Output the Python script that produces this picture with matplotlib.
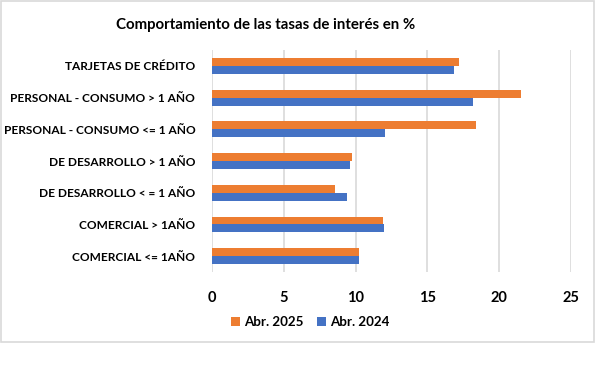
import matplotlib
matplotlib.use("Agg")
import matplotlib.pyplot as plt
from matplotlib.patches import Rectangle
import numpy as np

categories = ["TARJETAS DE CRÉDITO", "PERSONAL - CONSUMO > 1 AÑO", "PERSONAL - CONSUMO <= 1 AÑO",
              "DE DESARROLLO > 1 AÑO", "DE DESARROLLO < = 1 AÑO", "COMERCIAL > 1AÑO", "COMERCIAL <= 1AÑO"]
abr_2025 = [17.2, 21.5, 18.35, 9.75, 8.6, 11.88, 10.26]
abr_2024 = [16.85, 18.2, 12.05, 9.63, 9.4, 11.98, 10.23]
series_names = ["Abr. 2025", "Abr. 2024"]
xticks = [0, 5, 10, 15, 20, 25]

plt.rcParams['font.family'] = ['Lato', 'DejaVu Sans']

W, H = 600, 373
fig = plt.figure(figsize=(6, 3.73), dpi=100)
fig.patch.set_facecolor('white')

# frame
fig.patches.append(Rectangle((1 / W, 1 - 342 / H), 593 / W, 341 / H, transform=fig.transFigure,
                             fill=False, edgecolor='#D9D9D9', lw=1.2))

ax = fig.add_axes([212 / W, 1 - 272 / H, (571 - 212) / W, (272 - 50) / H])
n = len(categories)
y = np.arange(n)[::-1]
h = 0.25
ax.barh(y + h / 2, abr_2025, height=h, color='#ED7D31', label=series_names[0])
ax.barh(y - h / 2, abr_2024, height=h, color='#4472C4', label=series_names[1])
ax.set_ylim(-0.5, n - 0.5)
ax.set_xlim(0, 25)
ax.set_xticks(xticks)
ax.set_xticklabels([str(t) for t in xticks], fontsize=10.5, fontweight='bold')
ax.set_yticks(y)
ax.set_yticklabels(categories, fontsize=8.6, fontweight='bold')
ax.tick_params(length=0, pad=14, axis='x')
ax.tick_params(length=0, pad=12, axis='y')
for s in ax.spines.values():
    s.set_visible(False)
ax.grid(axis='x', color='#D9D9D9', lw=1.2)
ax.set_axisbelow(True)

fig.text(266 / W, 1 - 25 / H, "Comportamiento de las tasas de interés en %", ha='center', va='center',
         fontsize=10.8, fontweight='bold')

leg = fig.legend(loc='center', bbox_to_anchor=(310 / W, 1 - 322 / H), ncol=2, frameon=False,
                 prop={'weight': 'bold', 'size': 9.6}, handlelength=0.7, handleheight=0.7,
                 handletextpad=0.3, columnspacing=1.0)

fig.savefig("out.png", dpi=100, facecolor='white')
